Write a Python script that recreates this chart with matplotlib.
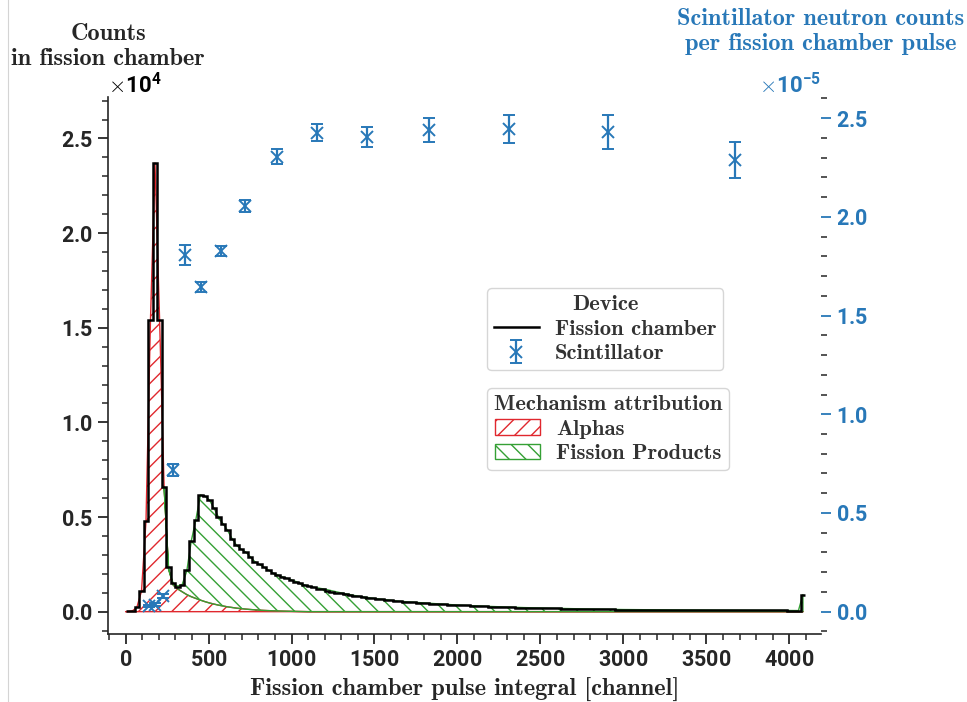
import numpy as np
import matplotlib
matplotlib.use("Agg")
import matplotlib.pyplot as plt
from matplotlib.lines import Line2D
from matplotlib.patches import Patch
from matplotlib.ticker import MultipleLocator, ScalarFormatter

# ---------------------------------------------------------------- data
# Fission chamber pulse-integral spectrum: 150 equal bins over 0..4096 channels
channel_min, channel_max, n_bins = 0, 4096, 150
fission_counts = [
    20, 40, 230, 1090, 4790, 15400, 23720, 15400, 6600, 2380,
    1500, 1300, 1400, 2200, 3750, 4840, 6160, 6110, 5900, 5460,
    5000, 4650, 4300, 3850, 3500, 3300, 3150, 2900, 2650, 2500,
    2350, 2200, 2050, 1950, 1850, 1770, 1680, 1580, 1500, 1400,
    1330, 1280, 1220, 1180, 1100, 1060, 1010, 980, 940, 900,
    850, 810, 780, 740, 700, 670, 650, 620, 590, 570,
    550, 530, 510, 500, 480, 470, 450, 430, 410, 400,
    390, 370, 360, 350, 340, 330, 310, 300, 300, 280,
    270, 260, 250, 240, 240, 230, 220, 210, 210, 200,
    190, 190, 180, 180, 170, 170, 160, 160, 150, 150,
    140, 140, 130, 130, 130, 120, 120, 120, 110, 110,
    108, 105, 103, 106, 100, 98, 101, 96, 94, 95,
    91, 90, 92, 87, 86, 84, 85, 81, 80, 82,
    78, 76, 77, 74, 73, 72, 74, 70, 69, 70,
    67, 66, 65, 67, 63, 62, 60, 61, 58,
    900,
]

# Mechanism attribution of the spectrum (fit components)
component_channels = [
    0, 41, 68, 96, 123, 150, 177, 205, 232, 259,
    287, 314, 341, 369, 396, 423, 451, 478, 505, 533,
    560, 587, 614, 642, 669, 696, 724, 751, 778, 806,
    833, 860, 887, 915, 942, 969, 1000, 1100, 1200, 1300,
    1400, 1500, 1650, 1800, 2000, 2200, 2400, 2600, 2800, 3000,
    3300, 3600, 3900, 4055, 4082,
]
alpha_counts = [
    0, 40, 230, 1090, 4790, 15400, 23700, 15400, 6600, 2250,
    1400, 1200, 1050, 900, 790, 700, 610, 530, 460, 400,
    345, 300, 255, 220, 185, 160, 135, 115, 95, 80,
    66, 55, 45, 37, 30, 24, 18, 0, 0, 0,
    0, 0, 0, 0, 0, 0, 0, 0, 0, 0,
    0, 0, 0, 0, 0,
]
fission_product_counts = [
    0, 0, 0, 0, 0, 0, 0, 0, 0, 30,
    80, 150, 380, 1250, 2950, 4140, 5550, 5580, 5440, 5060,
    4650, 4350, 4045, 3630, 3315, 3140, 3015, 2785, 2555, 2420,
    2284, 2145, 2005, 1913, 1820, 1746, 1662, 1340, 1190, 990,
    820, 700, 550, 460, 350, 275, 215, 175, 140, 112,
    92, 78, 66, 58, 900,
]

# Scintillator neutron counts per fission chamber pulse
scint_channels = [143, 180, 227, 286, 361, 455, 573, 722, 913, 1154,
                  1454, 1827, 2311, 2910, 3672]
scint_rate = [0.029e-5, 0.036e-5, 0.081e-5, 0.718e-5, 1.806e-5,
              1.643e-5, 1.829e-5, 2.055e-5, 2.305e-5, 2.426e-5,
              2.406e-5, 2.440e-5, 2.445e-5, 2.432e-5, 2.288e-5]
scint_err = [0.005e-5, 0.006e-5, 0.010e-5, 0.030e-5, 0.050e-5,
             0.026e-5, 0.025e-5, 0.030e-5, 0.037e-5, 0.043e-5,
             0.051e-5, 0.059e-5, 0.071e-5, 0.086e-5, 0.089e-5]

# ---------------------------------------------------------------- style
SERIF = ["cmb10", "DejaVu Serif"]
NARROW = ["Liberation Sans Narrow", "Roboto", "DejaVu Sans"]
BLUE = "#2878b8"
RED = "#e0282e"
GREEN = "#35a035"
DARK = "#262626"
LEGEND_TEXT = "#333333"
LABEL_SIZE = 17.5
LEGEND_SIZE = 16.3
TICK_SIZE = 15.5

plt.rcParams.update({
    "font.family": SERIF,
    "font.weight": "bold",
    "font.size": LABEL_SIZE,
    "mathtext.fontset": "cm",
    "axes.formatter.use_mathtext": True,
    "hatch.linewidth": 1.0,
})

fig = plt.figure(figsize=(9.67, 7.02), dpi=100)
ax = fig.add_axes([108 / 967, 1 - 634 / 702, (821 - 108) / 967, (634 - 97) / 702])
ax2 = ax.twinx()

# ---------------------------------------------------------------- spectrum
edges = np.linspace(channel_min, channel_max, n_bins + 1)
alpha_top = np.asarray(alpha_counts, dtype=float)
stack_top = alpha_top + np.asarray(fission_product_counts, dtype=float)
fp_region = stack_top > alpha_top
fp_region[:-1] |= fp_region[1:]

ax.fill_between(component_channels, 0, alpha_top, facecolor="none",
                edgecolor=RED, hatch="//", linewidth=1.0, zorder=2)
ax.fill_between(component_channels, alpha_top, stack_top, where=fp_region,
                facecolor="none", edgecolor=GREEN, hatch="\\\\",
                linewidth=1.0, zorder=2)
ax.stairs(fission_counts, edges, baseline=None, color="black",
          linewidth=1.8, zorder=3)

# ---------------------------------------------------------------- scintillator
sc = ax2.errorbar(scint_channels, scint_rate, yerr=scint_err, fmt="x",
                  color=BLUE, markersize=8, markeredgewidth=1.4,
                  elinewidth=1.6, capsize=4, capthick=1.6, zorder=4)

# ---------------------------------------------------------------- axes
ax.set_xlim(-106, 4191)
ax.set_ylim(-1180, 27190)
ax2.set_ylim(-0.113e-5, 2.607e-5)

ax.xaxis.set_major_locator(MultipleLocator(500))
ax.xaxis.set_minor_locator(MultipleLocator(100))
ax.yaxis.set_major_locator(MultipleLocator(5000))
ax.yaxis.set_minor_locator(MultipleLocator(1000))
ax2.yaxis.set_major_locator(MultipleLocator(0.5e-5))
ax2.yaxis.set_minor_locator(MultipleLocator(0.1e-5))

for axis in (ax.yaxis, ax2.yaxis):
    f = ScalarFormatter(useMathText=True)
    f.set_powerlimits((0, 0))
    axis.set_major_formatter(f)

for s in ("top", "right"):
    ax.spines[s].set_visible(False)
for s in ("left", "bottom"):
    ax.spines[s].set_color(DARK)
    ax.spines[s].set_linewidth(1.2)
for s in ax2.spines.values():
    s.set_visible(False)

ax.tick_params(which="major", length=7, width=1.3, color=DARK,
               labelcolor=DARK, labelsize=TICK_SIZE, pad=4,
               labelfontfamily=NARROW)
ax.tick_params(which="minor", length=4, width=1.1, color=DARK)
ax2.tick_params(axis="y", which="major", length=7, width=1.3, color=BLUE,
                labelcolor=BLUE, labelsize=TICK_SIZE, pad=4,
                labelfontfamily=NARROW)
ax2.tick_params(axis="y", which="minor", length=4, width=1.1, color=DARK)

for axis, col in ((ax.yaxis, "black"), (ax2.yaxis, BLUE)):
    ot = axis.get_offset_text()
    ot.set_fontfamily(NARROW)
    ot.set_fontweight("bold")
    ot.set_fontsize(TICK_SIZE + 0.5)
    ot.set_color(col)

ax.set_xlabel("Fission chamber pulse integral [channel]", color=DARK,
              labelpad=5)
fig.text(108 / 967, 1 - 23 / 702, "Counts\nin fission chamber",
         ha="center", va="top", color=DARK, linespacing=1.15)
fig.text(821 / 967, 1 - 8 / 702,
         "Scintillator neutron counts\nper fission chamber pulse",
         ha="center", va="top", color=BLUE, linespacing=1.15)

# ---------------------------------------------------------------- legends
legend_kw = dict(loc="upper left", bbox_transform=fig.transFigure,
                 fontsize=LEGEND_SIZE, title_fontsize=LEGEND_SIZE,
                 edgecolor="#cccccc", labelcolor=LEGEND_TEXT,
                 borderaxespad=0, borderpad=0.3, labelspacing=0.22,
                 handletextpad=0.7)

dev_handles = [Line2D([], [], color="black", linewidth=1.8), sc]
leg1 = ax2.legend(dev_handles, ["Fission chamber", "Scintillator"],
                  title="Device",
                  bbox_to_anchor=(487 / 967, 1 - 288 / 702), **legend_kw)
leg1.get_title().set_color(LEGEND_TEXT)
ax2.add_artist(leg1)

mech_handles = [
    Patch(facecolor="none", edgecolor=RED, hatch="//", linewidth=1.0),
    Patch(facecolor="none", edgecolor=GREEN, hatch="\\\\", linewidth=1.0),
]
leg2 = ax2.legend(mech_handles, ["Alphas", "Fission Products"],
                  title="Mechanism attribution",
                  bbox_to_anchor=(487 / 967, 1 - 388 / 702), **legend_kw)
leg2.get_title().set_color(LEGEND_TEXT)

fig.add_artist(Line2D([8 / 967, 8 / 967], [0, 1], transform=fig.transFigure,
                      color="#d4d4d4", linewidth=0.8))

fig.savefig("out.png", dpi=100)
